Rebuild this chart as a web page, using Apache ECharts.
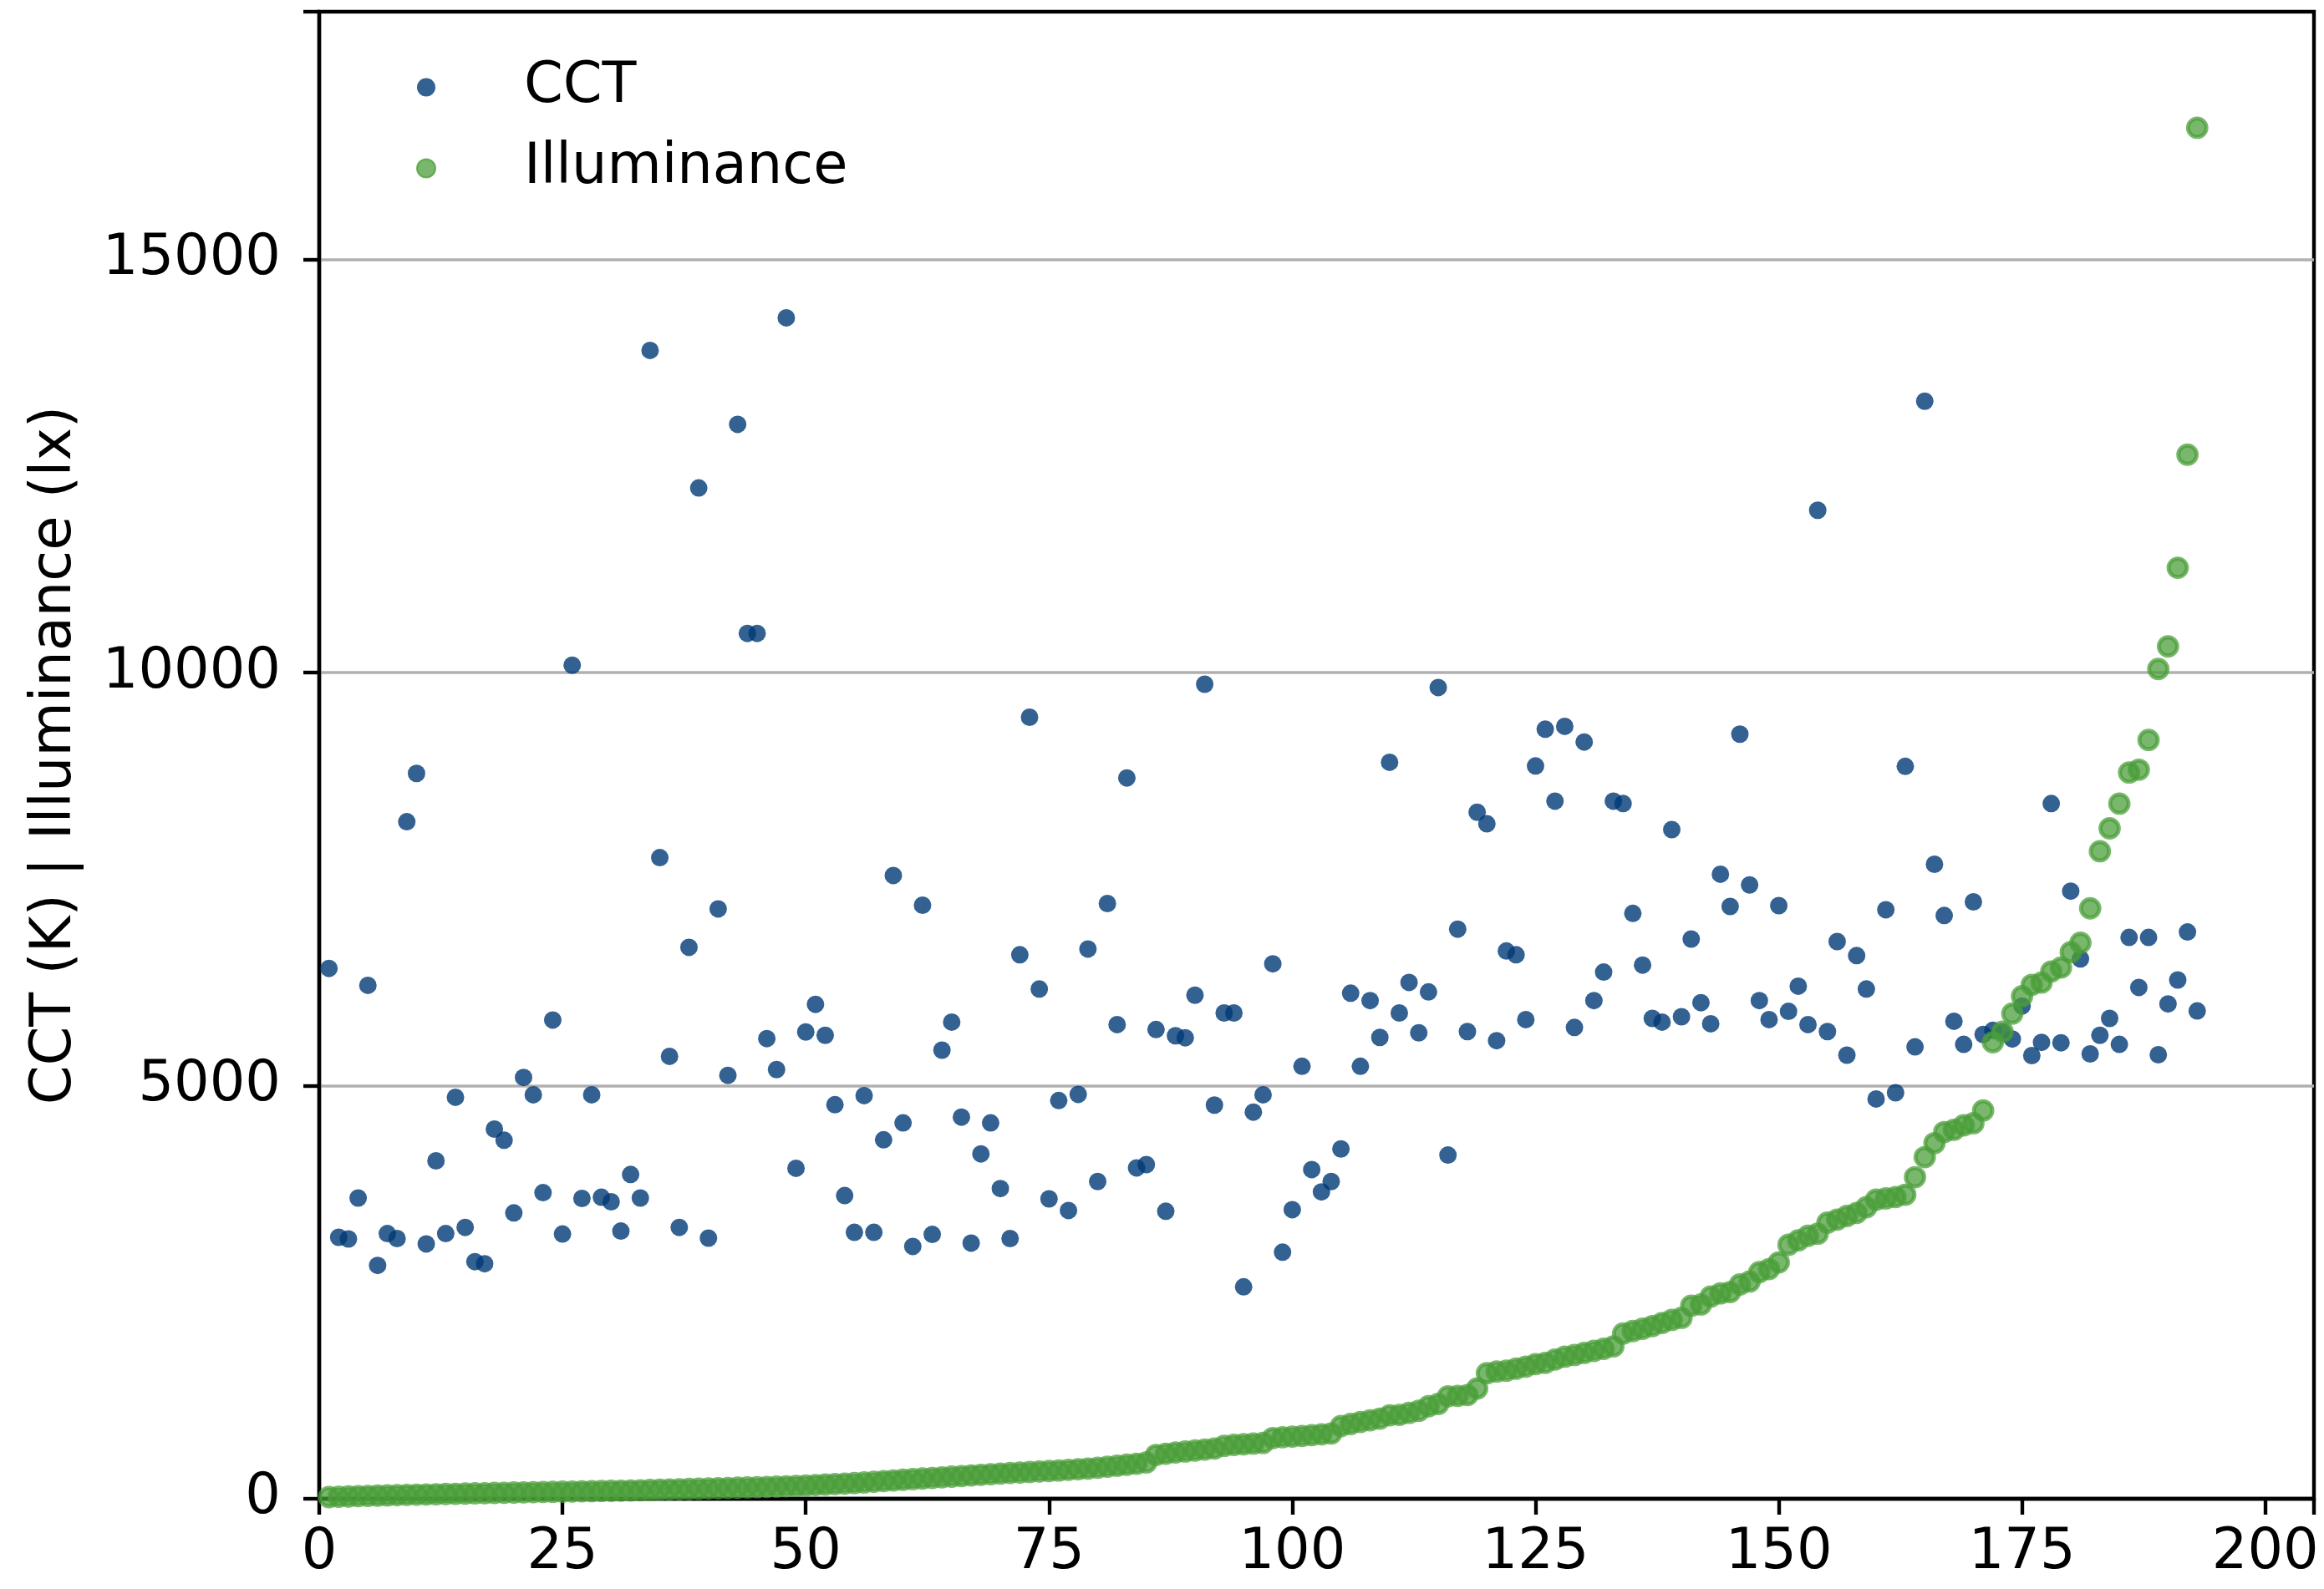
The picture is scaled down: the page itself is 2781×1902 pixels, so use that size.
<!DOCTYPE html>
<html>
<head>
<meta charset="utf-8">
<script src="https://cdn.jsdelivr.net/npm/echarts@6/dist/echarts.min.js"></script>
<style>
  html, body { margin: 0; padding: 0; background: #ffffff; }
  #chart { width: 2781px; height: 1902px; }
</style>
</head>
<body>
<div id="chart"></div>
<script>
// Sample numbers start at 1; each array below holds one value per sample.
const firstSample = 1;

// Correlated colour temperature per sample (K)
const cct = [
  6420, 3165, 3145, 3640, 6215, 2825, 3210, 3150, 8195, 8780,
  3085, 4090, 3210, 4860, 3285, 2870, 2845, 4475, 4340, 3460,
  5100, 4890, 3705, 5795, 3205, 10090, 3635, 4890, 3650, 3595,
  3240, 3925, 3640, 13900, 7760, 5355, 3285, 6675, 12235, 3155,
  7140, 5125, 13005, 10475, 10475, 5570, 5195, 14295, 4000, 5650,
  5985, 5610, 4770, 3670, 3225, 4880, 3225, 4345, 7545, 4550,
  3055, 7185, 3200, 5430, 5770, 4620, 3095, 4175, 4550, 3755,
  3150, 6585, 9460, 6170, 3630, 4820, 3490, 4895, 6655, 3840,
  7205, 5740, 8725, 4005, 4045, 5680, 3480, 5605, 5580, 6095,
  9860, 4765, 5880, 5880, 2565, 4680, 4890, 6475, 2985, 3500,
  5235, 3985, 3715, 3840, 4235, 6120, 5235, 6030, 5585, 8915,
  5880, 6250, 5640, 6135, 9820, 4160, 6895, 5655, 8310, 8170,
  5545, 6630, 6585, 5800, 8870, 9315, 8445, 9350, 5705, 9160,
  6030, 6375, 8445, 8415, 7085, 6460, 5815, 5770, 8100, 5835,
  6775, 6005, 5750, 7560, 7170, 9255, 7430, 6030, 5800, 7180,
  5900, 6205, 5740, 11965, 5655, 6745, 5370, 6575, 6170, 4840,
  7130, 4915, 8865, 5470, 13285, 7680, 7060, 5780, 5500, 7225,
  5620, 5670, 5650, 5565, 5965, 5365, 5525, 8415, 5520, 7355,
  6535, 5385, 5610, 5815, 5500, 6795, 6190, 6795, 5375, 5990,
  6280, 6860, 5905
];

// Illuminance per sample (lx), samples sorted by illuminance
const illuminance = [
  20, 24, 28, 32, 35, 38, 41, 44, 47, 50,
  52, 55, 58, 60, 63, 66, 68, 71, 73, 76,
  78, 80, 82, 84, 86, 88, 90, 92, 94, 96,
  98, 100, 103, 106, 110, 113, 116, 119, 122, 125,
  128, 131, 134, 137, 140, 143, 147, 151, 155, 160,
  166, 172, 178, 184, 190, 198, 206, 214, 222, 230,
  238, 245, 252, 260, 268, 275, 282, 290, 298, 305,
  312, 318, 324, 330, 336, 342, 350, 358, 366, 376,
  388, 400, 412, 424, 440, 530, 545, 560, 572, 584,
  596, 608, 640, 652, 660, 668, 676, 735, 745, 752,
  760, 770, 780, 790, 880, 905, 930, 950, 970, 1010,
  1015, 1040, 1065, 1120, 1148, 1240, 1245, 1255, 1335, 1520,
  1540, 1550, 1575, 1600, 1630, 1645, 1685, 1720, 1740, 1765,
  1790, 1815, 1845, 2000, 2030, 2058, 2090, 2128, 2165, 2190,
  2336, 2352, 2448, 2486, 2502, 2594, 2630, 2743, 2780, 2861,
  3074, 3128, 3183, 3209, 3342, 3379, 3423, 3460, 3529, 3620,
  3636, 3652, 3680, 3893, 4135, 4305, 4439, 4466, 4520, 4546,
  4700, 5526, 5654, 5873, 6083, 6221, 6248, 6382, 6430, 6617,
  6730, 7147, 7838, 8115, 8414, 8791, 8825, 9185, 10044, 10317,
  11269, 12638, 16595
];

const xTicks = [0, 25, 50, 75, 100, 125, 150, 175, 200];
const yTicks = [0, 5000, 10000, 15000];

const toPoints = arr => arr.map((v, i) => [firstSample + i, v]);

const FONT = 'DejaVu Sans';
const FS = 67;
const GRID_GREY = '#b0b0b0';
const chart = echarts.init(document.getElementById('chart'), null, { renderer: 'canvas' });

chart.setOption({
  animation: false,
  backgroundColor: '#ffffff',
  textStyle: { fontFamily: FONT },
  grid: {
    left: 382, top: 14, width: 2387, height: 1780,
    show: true, borderColor: '#000000', borderWidth: 4.4, backgroundColor: 'transparent'
  },
  legend: {
    orient: 'vertical',
    left: 493, top: 60,
    itemWidth: 22, itemHeight: 22,
    itemGap: 18,
    selectedMode: false,
    textStyle: { fontFamily: FONT, fontSize: FS, color: '#000000', lineHeight: 67, padding: [12, 0, 0, 101] },
    data: ['CCT', 'Illuminance']
  },
  xAxis: {
    type: 'value',
    min: 0, max: 205, interval: 25,
    axisLine: { show: true, onZero: false, lineStyle: { color: '#000000', width: 4.4 } },
    axisTick: { show: true, inside: false, length: 19, lineStyle: { color: '#000000', width: 4.4 } },
    axisLabel: {
      fontFamily: FONT, fontSize: FS, color: '#000000', margin: 32,
      formatter: v => (xTicks.indexOf(v) >= 0 ? String(v) : '')
    },
    splitLine: { show: false }
  },
  yAxis: {
    type: 'value',
    min: 0, max: 18000, interval: 5000,
    name: 'CCT (K) | Illuminance (lx)',
    nameLocation: 'middle',
    nameRotate: 90,
    nameGap: 282,
    nameTextStyle: { fontFamily: FONT, fontSize: FS, color: '#000000' },
    axisLine: { show: true, onZero: false, lineStyle: { color: '#000000', width: 4.4 } },
    axisTick: { show: true, inside: false, length: 19, lineStyle: { color: '#000000', width: 4.4 } },
    axisLabel: {
      fontFamily: FONT, fontSize: FS, color: '#000000', margin: 46,
      formatter: v => (yTicks.indexOf(v) >= 0 ? String(v) : '')
    },
    // no grey line along the top edge, so the black frame stays visible there
    splitLine: {
      show: true,
      lineStyle: { color: [GRID_GREY, GRID_GREY, GRID_GREY, GRID_GREY, 'rgba(0,0,0,0)'], width: 3.6 }
    }
  },
  series: [
    {
      name: 'CCT',
      type: 'scatter',
      symbol: 'circle',
      symbolSize: 21,
      data: toPoints(cct),
      itemStyle: { color: '#003a75' },
      emphasis: { disabled: true },
      z: 2
    },
    {
      name: 'Illuminance',
      type: 'scatter',
      symbol: 'circle',
      symbolSize: 22,
      data: toPoints(illuminance),
      itemStyle: { color: '#4a9e38', borderColor: '#4a9e38', borderWidth: 4.8, opacity: 0.74 },
      emphasis: { disabled: true },
      z: 3
    }
  ]
});
</script>
</body>
</html>
